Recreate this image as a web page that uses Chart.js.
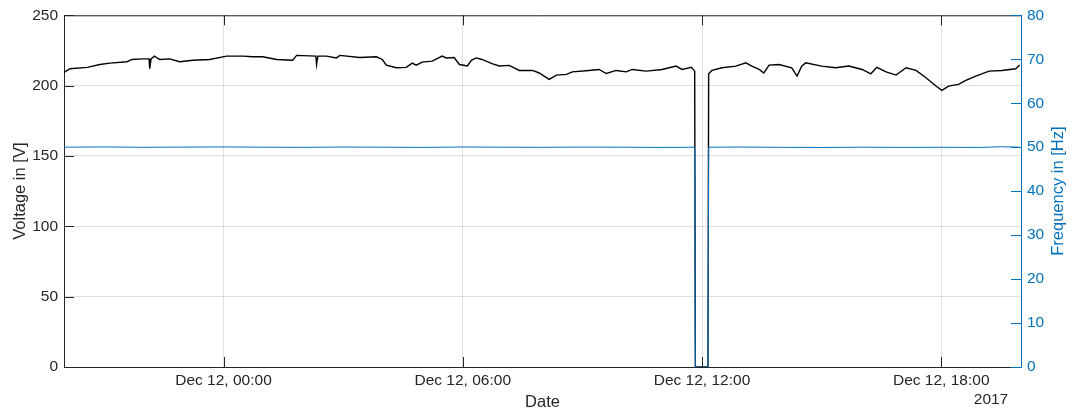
<!DOCTYPE html>
<html>
<head>
<meta charset="utf-8">
<script src="https://cdn.jsdelivr.net/npm/chart.js@4/dist/chart.umd.min.js"></script>
<style>
  html, body { margin: 0; padding: 0; background: #fff; }
  canvas { display: block; }
</style>
</head>
<body>
<canvas id="chart" width="1074" height="414"></canvas>
<script>
// --- data (times are MM-DD HH:MM, Dec 2017) ---
const voltTimes = [
  '12-11 20:00','12-11 20:09','12-11 20:35','12-11 20:54','12-11 21:09','12-11 21:35','12-11 21:42','12-11 21:59',
  '12-11 22:08','12-11 22:09','12-11 22:11','12-11 22:16','12-11 22:24','12-11 22:39','12-11 22:54','12-11 23:14',
  '12-11 23:39','12-12 00:05','12-12 00:29','12-12 00:44','12-12 00:59','12-12 01:20','12-12 01:44','12-12 01:50',
  '12-12 02:19','12-12 02:20','12-12 02:22','12-12 02:35','12-12 02:50','12-12 02:55','12-12 03:25','12-12 03:50',
  '12-12 03:59','12-12 04:05','12-12 04:20','12-12 04:35','12-12 04:44','12-12 04:50','12-12 04:59','12-12 05:14',
  '12-12 05:29','12-12 05:35','12-12 05:47','12-12 05:55','12-12 06:07','12-12 06:13','12-12 06:20','12-12 06:29',
  '12-12 06:44','12-12 06:55','12-12 07:10','12-12 07:25','12-12 07:45','12-12 07:55','12-12 08:10','12-12 08:21',
  '12-12 08:36','12-12 08:45','12-12 09:10','12-12 09:25','12-12 09:36','12-12 09:51','12-12 10:06','12-12 10:15',
  '12-12 10:36','12-12 11:00','12-12 11:21','12-12 11:30','12-12 11:44','12-12 11:49','12-12 11:50','12-12 12:09',
  '12-12 12:10','12-12 12:15','12-12 12:30','12-12 12:51','12-12 13:06','12-12 13:15','12-12 13:26','12-12 13:33',
  '12-12 13:41','12-12 13:56','12-12 14:15','12-12 14:23','12-12 14:30','12-12 14:36','12-12 15:00','12-12 15:21',
  '12-12 15:41','12-12 16:01','12-12 16:14','12-12 16:23','12-12 16:37','12-12 16:52','12-12 17:07','12-12 17:22',
  '12-12 17:37','12-12 17:52','12-12 18:01','12-12 18:11','12-12 18:26','12-12 18:37','12-12 18:52','12-12 19:12',
  '12-12 19:31','12-12 19:52','12-12 19:58'
];
const voltValues = [
  209.5, 212, 213, 215, 216, 217, 218.6, 219,
  219, 212, 219, 221, 218.6, 219, 217, 218,
  218.6, 221, 221, 220.5, 220.5, 218.6, 218, 221.5,
  221, 215, 221, 221, 219.7, 221.5, 220, 220.5,
  218.6, 214.6, 212.7, 213, 216, 214.6, 216.7, 217.4,
  221, 219.7, 220, 215, 214, 218, 219.7, 218.6,
  215.6, 214, 214.4, 210.8, 210.8, 209, 204.5, 207.5,
  208, 209.8, 210.8, 211.5, 208.6, 210.8, 209.8, 211.5,
  210.3, 211.5, 213.9, 211.5, 213, 210.3, 0, 0,
  208.4, 210.8, 212.7, 213.9, 216.2, 213.9, 211.5, 209,
  214.6, 215, 212.7, 206.8, 213.9, 216.2, 213.9, 212.7,
  213.9, 211.5, 208.4, 213, 209.8, 207.5, 212.7, 210.8,
  205.6, 199.7, 196.6, 199.7, 200.9, 203.7, 206.8, 210.3,
  210.8, 212, 214.6
];

const freqTimes = [
  '12-11 20:00','12-11 21:00','12-11 22:00','12-11 23:00','12-12 00:00','12-12 01:00','12-12 02:00','12-12 03:00',
  '12-12 04:00','12-12 05:00','12-12 06:00','12-12 07:00','12-12 08:00','12-12 09:00','12-12 10:00','12-12 11:00',
  '12-12 11:49','12-12 11:50','12-12 12:09','12-12 12:10','12-12 13:00','12-12 14:00','12-12 15:00','12-12 16:00',
  '12-12 17:00','12-12 18:00','12-12 19:00','12-12 19:30','12-12 19:58'
];
const freqValues = [
  50.0, 50.05, 49.98, 50.02, 50.06, 50.0, 49.97, 50.03,
  50.0, 49.96, 50.04, 50.0, 49.98, 50.02, 50.0, 49.95,
  49.98, 0, 0, 50.0, 50.03, 49.97, 49.93, 50.0,
  49.96, 49.98, 49.95, 50.1, 50.0
];

const xRange = ['12-11 20:00', '12-12 20:00'];
const xTickTimes = ['12-12 00:00', '12-12 06:00', '12-12 12:00', '12-12 18:00'];
const xTickLabels = ['Dec 12, 00:00', 'Dec 12, 06:00', 'Dec 12, 12:00', 'Dec 12, 18:00'];
const yearLabel = '2017';
const voltRange = [0, 250];
const freqRange = [0, 80];

// hours since Dec 11 00:00
function toHours(s) {
  const day = +s.slice(3, 5), h = +s.slice(6, 8), m = +s.slice(9, 11);
  return (day - 11) * 24 + h + m / 60;
}

const AXIS = '#262626';
const BLUE = '#0072BD';
const GRID = 'rgba(38,38,38,0.15)';
const FONT = "'Liberation Sans', Arial, Helvetica, sans-serif";
const TICK_LEN = 10;

const voltPoints = voltTimes.map((t, i) => ({ x: toHours(t), y: voltValues[i] }));
const freqPoints = freqTimes.map((t, i) => ({ x: toHours(t), y: freqValues[i] }));
const xTicks = xTickTimes.map(toHours);

// MATLAB-style box: top edge, inward tick marks, right label, year under the axis
const boxTicks = {
  id: 'boxTicks',
  afterDraw(chart) {
    const { ctx, chartArea: a, scales } = chart;
    ctx.save();
    ctx.lineWidth = 1;
    ctx.strokeStyle = AXIS;
    ctx.beginPath();
    ctx.moveTo(a.left, a.top + 0.5);
    ctx.lineTo(a.right, a.top + 0.5);
    scales.x.ticks.forEach(t => {
      const px = Math.round(scales.x.getPixelForValue(t.value)) + 0.5;
      ctx.moveTo(px, a.bottom); ctx.lineTo(px, a.bottom - TICK_LEN);
      ctx.moveTo(px, a.top); ctx.lineTo(px, a.top + TICK_LEN);
    });
    scales.y.ticks.forEach(t => {
      const py = Math.round(scales.y.getPixelForValue(t.value)) + 0.5;
      ctx.moveTo(a.left, py); ctx.lineTo(a.left + TICK_LEN, py);
    });
    ctx.stroke();

    ctx.strokeStyle = BLUE;
    ctx.beginPath();
    scales.y1.ticks.forEach(t => {
      const py = Math.round(scales.y1.getPixelForValue(t.value)) + 0.5;
      ctx.moveTo(a.right, py); ctx.lineTo(a.right - TICK_LEN, py);
    });
    ctx.stroke();

    ctx.textAlign = 'center';
    ctx.textBaseline = 'middle';
    ctx.fillStyle = AXIS;
    ctx.font = '15.5px ' + FONT;
    ctx.fillText(yearLabel, a.right - 30, a.bottom + 33);

    // right axis title reads bottom-to-top, like the left one
    ctx.fillStyle = BLUE;
    ctx.font = '16.5px ' + FONT;
    ctx.translate(a.right + 37, (a.top + a.bottom) / 2);
    ctx.rotate(-Math.PI / 2);
    ctx.fillText('Frequency in [Hz]', 0, 0);
    ctx.restore();
  }
};

new Chart(document.getElementById('chart'), {
  type: 'line',
  data: {
    datasets: [
      {
        label: 'Frequency',
        data: freqPoints,
        yAxisID: 'y1',
        borderColor: BLUE,
        borderWidth: 1,
        pointRadius: 0,
        tension: 0,
        order: 0
      },
      {
        label: 'Voltage',
        data: voltPoints,
        yAxisID: 'y',
        borderColor: '#000000',
        borderWidth: 1.4,
        pointRadius: 0,
        tension: 0,
        order: 1
      }
    ]
  },
  options: {
    responsive: false,
    animation: false,
    layout: { padding: { top: 14, left: 0, right: 0, bottom: 0 } },
    plugins: { legend: { display: false }, tooltip: { enabled: false } },
    scales: {
      x: {
        type: 'linear',
        min: toHours(xRange[0]),
        max: toHours(xRange[1]),
        afterBuildTicks: s => { s.ticks = xTicks.map(v => ({ value: v })); },
        afterFit: s => { s.height = 47; },
        ticks: {
          color: AXIS,
          font: { family: FONT, size: 15.5 },
          padding: 4,
          maxRotation: 0,
          autoSkip: false,
          callback: v => xTickLabels[xTicks.indexOf(v)]
        },
        grid: { color: GRID, drawTicks: false },
        border: { color: AXIS, width: 1 },
        title: {
          display: true,
          text: 'Date',
          color: AXIS,
          font: { family: FONT, size: 16.5 },
          padding: { top: 0, bottom: 2 }
        }
      },
      y: {
        position: 'left',
        min: voltRange[0],
        max: voltRange[1],
        ticks: {
          stepSize: 50,
          color: AXIS,
          font: { family: FONT, size: 15.5 },
          padding: 6
        },
        afterFit: s => { s.width = 64; },
        grid: { color: GRID, drawTicks: false },
        border: { color: AXIS, width: 1 },
        title: {
          display: true,
          text: 'Voltage in [V]',
          color: AXIS,
          font: { family: FONT, size: 16.5 },
          padding: { top: 11, bottom: 0 }
        }
      },
      y1: {
        position: 'right',
        min: freqRange[0],
        max: freqRange[1],
        ticks: {
          stepSize: 10,
          color: BLUE,
          font: { family: FONT, size: 15.5 },
          padding: 6
        },
        afterFit: s => { s.width = 53; },
        grid: { display: false, drawTicks: false },
        border: { color: BLUE, width: 1 },
        title: { display: false }
      }
    }
  },
  plugins: [boxTicks]
});
</script>
</body>
</html>
